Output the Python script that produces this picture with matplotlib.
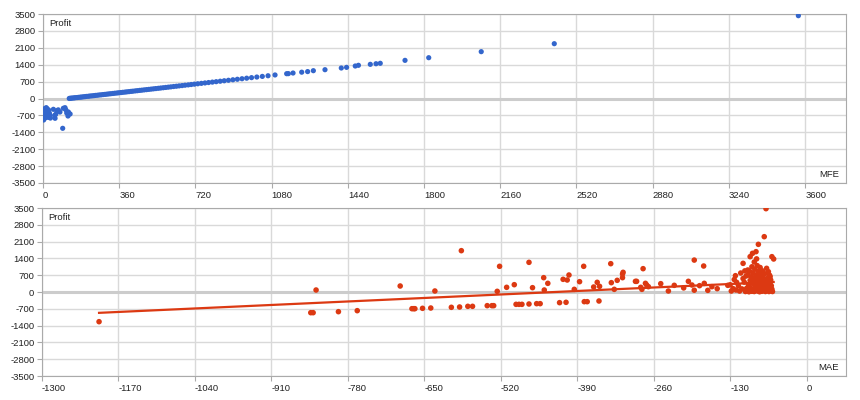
import matplotlib
matplotlib.use('Agg')
import matplotlib.pyplot as plt
import numpy as np

plt.rcParams['font.family'] = ['Liberation Sans', 'DejaVu Sans']
plt.rcParams['axes.unicode_minus'] = False

# MFE vs Profit (top)
mfe = [0, 2, 3, 5, 8, 10, 12, 15, 17, 18, 20, 22, 25, 26, 30, 33, 35, 49, 55, 57, 60, 65, 72, 80, 93, 96, 104, 108, 112, 118, 120, 128,
       124, 128, 133, 139, 146, 152, 160, 167, 175, 182, 190, 198, 205, 214, 222, 231, 240, 248, 257, 266, 275, 284, 293, 302,
       311, 320, 330, 339, 349, 358, 368, 377, 387, 396, 406, 416, 425, 436, 446, 457, 467, 478, 489, 500, 511, 522, 533, 545,
       556, 568, 580, 592, 604, 617, 630, 643, 657, 671, 686, 700, 715, 731, 748, 765, 782, 800, 818, 837, 856, 876, 897, 918,
       940, 962, 985, 1010, 1036, 1063, 1096, 1151, 1159, 1181, 1222, 1250, 1277, 1332, 1409, 1434, 1475, 1490, 1546, 1573,
       1593, 1710, 1822, 2070, 2415, 3568]
mfe_profit = [-560, -615, -890, -720, -420, -500, -800, -380, -406, -650, -450, -540, -780, -470, -600, -690, -810, -448, -700, -820,
              -655, -505, -470, -560, -1235, -406, -380, -470, -600, -725, -560, -640,
              2, 8, 12, 20, 24, 33, 38, 47, 54, 60, 70, 76, 86, 92, 103, 110, 118, 128, 135, 146, 152, 163, 171, 180,
              190, 198, 208, 218, 227, 237, 246, 256, 265, 275, 284, 295, 303, 315, 324, 336, 345, 357, 367, 378, 389, 400, 411, 423,
              434, 446, 458, 470, 482, 496, 508, 522, 535, 550, 564, 579, 594, 610, 627, 644, 661, 679, 697, 716, 735, 755, 776, 797,
              819, 841, 864, 889, 915, 942, 975, 1027, 1030, 1055, 1090, 1115, 1152, 1193, 1263, 1290, 1346, 1375, 1415, 1440,
              1458, 1580, 1690, 1940, 2270, 3430]

# MAE vs Profit (bottom)
mae = [-1203, -843, -839, -834, -796, -764, -691, -671, -668, -666, -653, -639, -632, -604, -590, -587, -576, -568, -543, -535,
       -532, -526, -522, -510, -497, -494, -489, -484, -472, -472, -466, -459, -453, -447, -446, -440, -420, -414, -409, -407,
       -404, -395, -386, -379, -378, -373, -362, -356, -353, -352, -333, -332, -327, -322, -313, -312, -313, -291, -289, -282,
       -280, -278, -274, -272, -269, -248, -235, -225, -209, -201, -195, -191, -191, -182, -175, -174, -168, -161, -152, -134,
       -121, -120, -119, -112, -108, -103, -100, -96, -92, -86, -82, -72, -69, -59, -56, -68, -65, -62, -61,
       -104, -102, -101, -99, -98, -97, -96, -95, -94, -93, -92, -91, -90, -90, -89, -88, -88, -87, -86, -86,
       -85, -84, -84, -83, -83, -82, -81, -81, -80, -80, -79, -79, -78, -78, -77, -76, -76, -75, -75, -74,
       -74, -73, -72, -72, -71, -70, -70, -69, -68, -67, -67, -66, -65, -64, -64, -63, -62, -62, -61, -60,
       -59, -58, -100, -97, -93, -89, -85, -106, -110, -114, -116, -125, -128, -130, -123, -108, -105]
mae_profit = [-1237, -862, -862, 83, -820, -778, 250, -695, -695, -695, -680, -667, 42, -638, -625, 1722, -597, -597, -569, -569,
              -569, 28, 1070, 195, 305, -514, -514, -514, -500, 1236, 180, -486, -486, 597, 83, 361, -444, 528, -430, 500,
              708, 111, 430, 1070, -403, -403, 208, 403, -375, 236, 1180, 389, 111, 486, 750, 820, 597, 444, 444, 195,
              111, 972, 361, 292, 222, 347, 42, 278, 170, 445, 292, 1330, 75, 264, 1083, 361, 69, 222, 139, 278,
              680, 83, 403, 791, 1194, 666, 917, 1472, 1611, 1680, 1986, 2305, 3472, 1472, 1375, 986, 847, 639, 500,
              20, 150, 60, 310, 10, 220, 480, 90, 640, 30, 370, 800, 140, 560, 20, 280, 950, 430, 70, 700,
              180, 1100, 520, 40, 300, 860, 150, 620, 10, 400, 240, 1020, 90, 720, 500, 30, 330, 180, 880, 60,
              600, 420, 120, 260, 760, 20, 480, 200, 340, 80, 560, 140, 420, 20, 260, 700, 120, 380, 60, 260,
              120, 20, 700, 860, 1050, 1250, 1380, 410, 130, 40, 260, 140, 40, 300, 520, 560, 880]

# linear trendline of the full trade set (slope, intercept)
trend_slope = 1.12
trend_intercept = 479

y_ticks = np.arange(-3500, 3501, 700)

fig = plt.figure(figsize=(8.6, 4.0), dpi=100)
ax1 = fig.add_axes([43/860, 217/400, 803/860, 169/400])
ax2 = fig.add_axes([42/860, 24/400, 804/860, 168/400])


def style(ax, xticks, xlim, xname):
    ax.set_xlim(*xlim)
    ax.set_ylim(-3500, 3500)
    ax.set_xticks(xticks)
    ax.set_yticks(y_ticks)
    ax.set_axisbelow(True)
    ax.grid(True, color='#d9d9d9', lw=1.0)
    ax.axhline(0, color='#cccccc', lw=2.2, zorder=0.8)
    for s in ax.spines.values():
        s.set_color('#aaaaaa')
    ax.tick_params(colors='#aaaaaa', length=3.5, width=0.8, labelsize=6.8, labelcolor='#222222', pad=2)
    for lab in ax.get_xticklabels():
        lab.set_horizontalalignment('left')
    ax.text(0.008, 1 - 10/ax.bbox.height, 'Profit', transform=ax.transAxes, fontsize=6.8,
            ha='left', va='center', color='#222222')
    ax.text(0.991, 0.05, xname, transform=ax.transAxes, fontsize=6.8,
            ha='right', va='center', color='#222222')


style(ax1, np.arange(0, 3601, 360), (0, 3793), 'MFE')
style(ax2, np.arange(-1300, 1, 130), (-1300, 67), 'MAE')

ax1.scatter(mfe, mfe_profit, s=14, color='#3366cc', edgecolors='none', zorder=3)
ax2.scatter(mae, mae_profit, s=16, color='#dc3912', edgecolors='none', zorder=3)

tx = np.array([min(mae), max(mae)])
ax2.plot(tx, trend_slope * tx + trend_intercept, color='#dc3912', lw=1.6, zorder=2.5)

fig.savefig('out.png', dpi=100)
